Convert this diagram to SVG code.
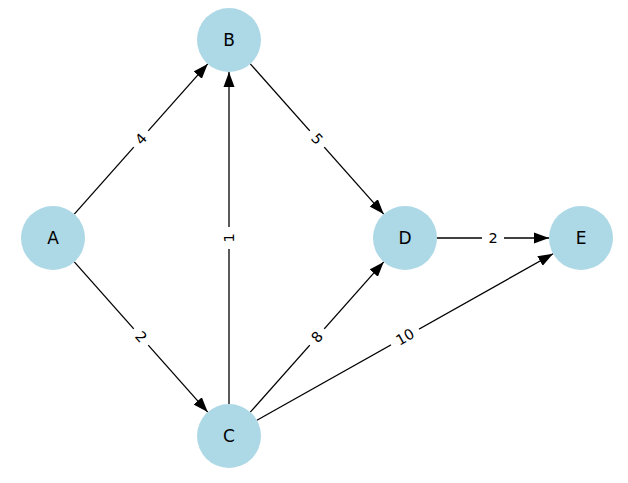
<svg xmlns="http://www.w3.org/2000/svg" width="628" height="483" viewBox="0 0 628 483">
<style>
.node circle{fill:#ADD8E6}
.node text{font-family:"DejaVu Sans",sans-serif;font-size:17px;fill:#000;text-anchor:middle;dominant-baseline:central}
.edges line{stroke:#000;stroke-width:1.3;marker-end:url(#ah)}
.lbl rect{fill:#fff}
.lbl text{font-family:"DejaVu Sans",sans-serif;font-size:14.5px;fill:#000;text-anchor:middle;dominant-baseline:central}
</style>
<defs>
<marker id="ah" markerUnits="userSpaceOnUse" markerWidth="16" markerHeight="12" refX="15" refY="5.5" orient="auto" viewBox="0 0 16 11">
<path d="M0,0 L15,5.5 L0,11 z" fill="#000"/>
</marker>
</defs>
<rect width="628" height="483" fill="#fff"/>
<g id="edges" class="edges">
<line x1="74.3" y1="214.1" x2="207.7" y2="63.9"/>
<line x1="74.3" y1="261.9" x2="207.7" y2="412.1"/>
<line x1="229" y1="404" x2="229" y2="72"/>
<line x1="250.3" y1="63.9" x2="383.7" y2="214.1"/>
<line x1="250.3" y1="412.1" x2="383.7" y2="261.9"/>
<line x1="437" y1="238" x2="549" y2="238"/>
<line x1="256.9" y1="420.3" x2="553.1" y2="253.7"/>
</g>
<g id="edge-labels">
<g class="lbl" transform="translate(141,139) rotate(-48.4)"><rect x="-11" y="-10" width="22" height="20"/><text>4</text></g>
<g class="lbl" transform="translate(141,337) rotate(48.4)"><rect x="-11" y="-10" width="22" height="20"/><text>2</text></g>
<g class="lbl" transform="translate(229,238) rotate(-90)"><rect x="-11" y="-10" width="22" height="20"/><text>1</text></g>
<g class="lbl" transform="translate(317,139) rotate(48.4)"><rect x="-11" y="-10" width="22" height="20"/><text>5</text></g>
<g class="lbl" transform="translate(317,337) rotate(-48.4)"><rect x="-11" y="-10" width="22" height="20"/><text>8</text></g>
<g class="lbl" transform="translate(493,238)"><rect x="-11" y="-10" width="22" height="20"/><text>2</text></g>
<g class="lbl" transform="translate(405,337) rotate(-29.4)"><rect x="-16" y="-10" width="32" height="20"/><text>10</text></g>
</g>
<g id="A" class="node"><circle cx="53" cy="238" r="32"/><text x="53" y="238">A</text></g>
<g id="B" class="node"><circle cx="229" cy="40" r="32"/><text x="229" y="40">B</text></g>
<g id="C" class="node"><circle cx="229" cy="436" r="32"/><text x="229" y="436">C</text></g>
<g id="D" class="node"><circle cx="405" cy="238" r="32"/><text x="405" y="238">D</text></g>
<g id="E" class="node"><circle cx="581" cy="238" r="32"/><text x="581" y="238">E</text></g>
</svg>
